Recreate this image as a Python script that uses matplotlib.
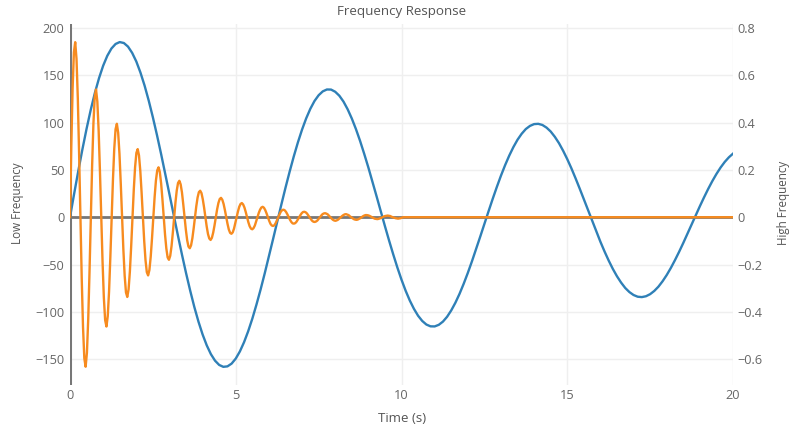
# coding: utf-8
import numpy as np
from matplotlib import pyplot as plt

plt.rcParams['font.family'] = ['Open Sans', 'DejaVu Sans']

# low frequency trace, sampled every 0.125 s
time_low = np.linspace(0, 20, 161)
low = [0.0, 24.8, 48.9, 71.9, 93.5, 113.4, 131.3, 146.9,
       160.1, 170.6, 178.3, 183.1, 185.1, 184.1, 180.3, 173.7,
       164.6, 152.9, 139.1, 123.2, 105.6, 86.6, 66.5, 45.6,
       24.3, 2.8, -18.4, -39.1, -58.9, -77.5, -94.8, -110.3,
       -123.9, -135.4, -144.7, -151.6, -156.1, -158.1, -157.6, -154.7,
       -149.4, -141.8, -132.1, -120.5, -107.2, -92.3, -76.3, -59.2,
       -41.4, -23.2, -4.9, 13.3, 31.1, 48.1, 64.2, 79.1,
       92.6, 104.5, 114.6, 122.8, 128.9, 133.0, 135.0, 134.9,
       132.6, 128.4, 122.2, 114.1, 104.4, 93.2, 80.7, 67.0,
       52.6, 37.4, 21.9, 6.2, -9.4, -24.6, -39.2, -53.1,
       -66.0, -77.7, -88.0, -96.8, -104.1, -109.6, -113.4, -115.3,
       -115.4, -113.7, -110.3, -105.2, -98.5, -90.4, -81.0, -70.4,
       -58.9, -46.6, -33.7, -20.5, -7.1, 6.2, 19.3, 31.9,
       43.9, 55.0, 65.1, 74.1, 81.9, 88.2, 93.2, 96.5,
       98.4, 98.7, 97.5, 94.7, 90.6, 85.0, 78.3, 70.3,
       61.4, 51.7, 41.2, 30.3, 19.0, 7.6, -3.8, -15.0,
       -25.9, -36.2, -45.8, -54.6, -62.4, -69.1, -74.8, -79.1,
       -82.2, -84.0, -84.4, -83.5, -81.3, -77.9, -73.4, -67.7,
       -61.1, -53.6, -45.3, -36.5, -27.2, -17.6, -7.8, 2.0,
       11.6, 20.9, 29.8, 38.1, 45.7, 52.5, 58.4, 63.3,
       67.2]

# high frequency trace, 16 samples per oscillation, flat after ~10 s
high = [0, 0.300, 0.544, 0.697, 0.740, 0.670, 0.503, 0.267, 0, -0.257, -0.465, -0.596, -0.632, -0.573, -0.430, -0.228,
        0, 0.219, 0.397, 0.509, 0.540, 0.489, 0.367, 0.195, 0, -0.187, -0.340, -0.435, -0.462, -0.418, -0.314, -0.167,
        0, 0.160, 0.290, 0.372, 0.395, 0.357, 0.268, 0.142, 0, -0.137, -0.248, -0.318, -0.337, -0.305, -0.229, -0.122,
        0, 0.117, 0.212, 0.272, 0.288, 0.261, 0.196, 0.104, 0, -0.100, -0.181, -0.232, -0.246, -0.223, -0.167, -0.089,
        0, 0.085, 0.155, 0.198, 0.211, 0.191, 0.143, 0.076, 0, -0.073, -0.132, -0.170, -0.180, -0.163, -0.122, -0.065,
        0, 0.062, 0.113, 0.145, 0.154, 0.139, 0.105, 0.055, 0, -0.053, -0.097, -0.124, -0.131, -0.119, -0.089, -0.047,
        0, 0.046, 0.083, 0.106, 0.112, 0.102, 0.076, 0.041, 0, -0.039, -0.071, -0.090, -0.096, -0.087, -0.065, -0.035,
        0, 0.033, 0.060, 0.077, 0.082, 0.074, 0.056, 0.030, 0, -0.028, -0.052, -0.066, -0.070, -0.064, -0.048, -0.025,
        0, 0.024, 0.044, 0.056, 0.060, 0.054, 0.041, 0.022, 0, -0.021, -0.038, -0.048, -0.051, -0.046, -0.035, -0.018,
        0, 0.018, 0.032, 0.041, 0.044, 0.040, 0.030, 0.016, 0, -0.015, -0.028, -0.035, -0.037, -0.034, -0.025, -0.013,
        0, 0.013, 0.024, 0.030, 0.032, 0.029, 0.022, 0.012, 0, -0.011, -0.020, -0.026, -0.027, -0.025, -0.019, -0.010,
        0, 0.009, 0.017, 0.022, 0.023, 0.021, 0.016, 0.008, 0, -0.008, -0.015, -0.019, -0.020, -0.018, -0.014, -0.007,
        0, 0.007, 0.013, 0.016, 0.017, 0.015, 0.012, 0.006, 0, -0.006, -0.011, -0.014, -0.015, -0.013, -0.010, -0.005,
        0, 0.005, 0.009, 0.012, 0.013, 0.011, 0.009, 0.004, 0, -0.004, -0.008, -0.010, -0.011, -0.010, -0.007, -0.004,
        0, 0.004, 0.007, 0.009, 0.009, 0.008, 0.006, 0.003, 0, -0.003, -0.006, -0.007, -0.008, -0.007, -0.005, -0.003,
        0, 0.003, 0.005, 0.006, 0.007, 0.006, 0.005, 0.002, 0, -0.002, -0.004, -0.005, -0.006, -0.005, -0.004, -0.002,
        0]
time_high = list(np.arange(len(high)) * (np.pi / 80)) + [20]
high = high + [0]

left_ticks = [-150, -100, -50, 0, 50, 100, 150, 200]
right_ticks = [-0.6, -0.4, -0.2, 0, 0.2, 0.4, 0.6, 0.8]
x_ticks = [0, 5, 10, 15, 20]

blue = '#2f80b7'
orange = '#f78b1f'
grid = '#efefef'
zero = '#777777'
txt = '#666666'

fig = plt.figure(figsize=(7.92, 4.30), dpi=100)
ax = fig.add_axes([70 / 792, 45 / 430, 663 / 792, 361 / 430])
ax2 = ax.twinx()

ax.set_xlim(0, 20)
ax.set_ylim(-177.3, 204.2)
ax2.set_ylim(-0.7092, 0.8168)

ax.set_xticks(x_ticks)
ax.set_yticks(left_ticks)
ax.set_yticklabels([str(v).replace('-', '\u2212') for v in left_ticks])
ax2.set_yticks(right_ticks)
ax2.set_yticklabels([('%g' % v).replace('-', '\u2212') for v in right_ticks])

ax.grid(True, color=grid, linewidth=1)
ax.set_axisbelow(True)
ax.axvline(0, color=zero, linewidth=2.2, zorder=1)
ax.axhline(0, color=zero, linewidth=2, zorder=1)

ax.plot(time_low, low, color=blue, linewidth=1.7, zorder=3)
ax2.plot(time_high, high, color=orange, linewidth=1.7, zorder=3)

for a in (ax, ax2):
    for s in a.spines.values():
        s.set_visible(False)
    a.tick_params(length=0, labelsize=9.2, labelcolor=txt)
ax.tick_params(axis='y', pad=4)
ax.tick_params(axis='x', pad=3)
ax2.tick_params(axis='y', pad=3)

fig.text(402 / 792, 1 - 11 / 430, 'Frequency Response', ha='center', va='center',
         fontsize=9.6, color='#555555')
fig.text(402 / 792, 1 - 419 / 430, 'Time (s)', ha='center', va='center',
         fontsize=9.5, color='#555555')
fig.text(18 / 792, 1 - 203 / 430, 'Low Frequency', rotation=90, ha='center', va='center',
         fontsize=8.4, color='#555555')
fig.text(783 / 792, 1 - 203 / 430, 'High Frequency', rotation=90, ha='center', va='center',
         fontsize=8.4, color='#555555')

fig.savefig('out.png', dpi=100)
